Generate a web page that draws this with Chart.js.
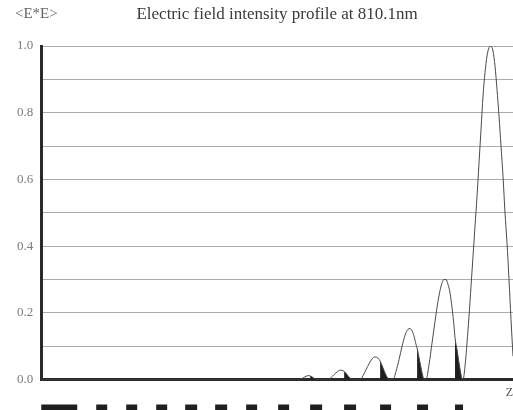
<!DOCTYPE html>
<html>
<head>
<meta charset="utf-8">
<title>Electric field intensity profile at 810.1nm</title>
<script src="https://cdn.jsdelivr.net/npm/chart.js@4/dist/chart.umd.min.js"></script>
<style>
  html, body { margin: 0; padding: 0; background: #ffffff; }
  #wrap { width: 513px; height: 410px; }
</style>
</head>
<body>
<div id="wrap"><canvas id="c" width="513" height="410"></canvas></div>
<script>
// Position along the structure (nm) and normalised field intensity <E*E>
const positionNm = [
  0, 1036,
  1044, 1052, 1060, 1068, 1076, 1084, 1092, 1100, 1104,
  1148, 1160, 1172, 1184, 1196, 1204, 1212, 1220, 1228, 1236, 1242,
  1276, 1288, 1300, 1312, 1324, 1336, 1348, 1356, 1364, 1372, 1380, 1388, 1392,
  1408, 1420, 1432, 1444, 1456, 1468, 1476, 1484, 1492, 1500, 1504, 1512, 1520, 1528, 1532,
  1540, 1552, 1564, 1576, 1588, 1600, 1612, 1620, 1628, 1636, 1644, 1652, 1656, 1664, 1672, 1680, 1684,
  1688, 1696, 1704, 1712, 1720, 1728, 1736, 1744, 1752, 1760, 1768, 1776, 1784, 1792,
  1800, 1808, 1816, 1824, 1832, 1840, 1848, 1856, 1864, 1872, 1880, 1888
];
const intensity = [
  0, 0,
  0.003, 0.007, 0.010, 0.012, 0.011, 0.008, 0.004, 0.001, 0,
  0, 0.006, 0.015, 0.023, 0.028, 0.028, 0.024, 0.019, 0.011, 0.004, 0,
  0, 0.012, 0.030, 0.048, 0.062, 0.068, 0.064, 0.056, 0.042, 0.027, 0.013, 0.003, 0,
  0, 0.025, 0.060, 0.100, 0.133, 0.151, 0.153, 0.146, 0.130, 0.105, 0.095, 0.066, 0.035, 0.008, 0,
  0, 0.045, 0.110, 0.175, 0.235, 0.280, 0.300, 0.300, 0.285, 0.260, 0.215, 0.160, 0.125, 0.090, 0.050, 0.015, 0,
  0, 0.040, 0.110, 0.190, 0.280, 0.370, 0.460, 0.550, 0.650, 0.750, 0.850, 0.920, 0.970, 0.995,
  1.000, 0.985, 0.940, 0.870, 0.790, 0.700, 0.610, 0.500, 0.410, 0.300, 0.180, 0.070
];

// High-index layers of the stack (start / end, nm)
const layerStart = [0, 220, 340, 460, 576, 696, 820, 948, 1076, 1212, 1356, 1504, 1656];
const layerEnd   = [144, 264, 384, 504, 624, 744, 864, 992, 1124, 1260, 1400, 1548, 1688];

const yTicks = [0, 0.2, 0.4, 0.6, 0.8, 1.0];

const Z_MAX = 1888;
const LAYER_ROW = -0.09;   // drawn under the axis, below the plot
const SERIF = '"Liberation Serif", "Times New Roman", serif';
const TITLE_PAD_TOP = 4;
const TITLE_SIZE = 17;

const curvePoints = positionNm.map((x, i) => ({ x, y: intensity[i] }));

const inLayer = (a, b) => layerStart.some((s, i) => a >= s && b <= layerEnd[i]);

const layerPoints = [];
layerStart.forEach((s, i) => {
  layerPoints.push({ x: s, y: LAYER_ROW });
  layerPoints.push({ x: layerEnd[i], y: LAYER_ROW });
  layerPoints.push({ x: layerEnd[i] + 1, y: null });
});

// Quantity label in the top-left corner, level with the title
const axisLabel = {
  id: 'axisLabel',
  afterDraw(chart) {
    const ctx = chart.ctx;
    const tb = chart.titleBlock;
    ctx.save();
    ctx.font = '15px ' + SERIF;
    ctx.fillStyle = '#666';
    ctx.textBaseline = 'middle';
    ctx.textAlign = 'left';
    ctx.fillText('<E*E>', chart.scales.y.left + 6, tb.top + TITLE_PAD_TOP + TITLE_SIZE * 0.6);
    ctx.restore();
  }
};

new Chart(document.getElementById('c'), {
  type: 'line',
  data: {
    datasets: [
      {
        label: 'E*E',
        data: curvePoints,
        borderColor: '#4a4a4a',
        borderWidth: 1,
        pointRadius: 0,
        cubicInterpolationMode: 'monotone',
        fill: 'origin',
        backgroundColor: 'rgba(0,0,0,0)',
        segment: {
          backgroundColor: ctx => inLayer(positionNm[ctx.p0DataIndex], positionNm[ctx.p1DataIndex]) ? '#1e1e1e' : undefined
        }
      },
      {
        label: 'layers',
        data: layerPoints,
        borderColor: '#1f1f1f',
        borderWidth: 10,
        borderCapStyle: 'butt',
        pointRadius: 0,
        tension: 0,
        spanGaps: false,
        fill: false,
        clip: false
      }
    ]
  },
  options: {
    responsive: false,
    animation: false,
    devicePixelRatio: 1,
    layout: { autoPadding: false, padding: { left: 9, right: 0, top: 0, bottom: 0 } },
    plugins: {
      legend: { display: false },
      tooltip: { enabled: false },
      title: {
        display: true,
        text: 'Electric field intensity profile at 810.1nm',
        fullSize: false,
        color: '#3a3a3a',
        font: { family: SERIF, size: TITLE_SIZE, weight: 'normal' },
        padding: { top: TITLE_PAD_TOP, bottom: 21.6 }
      }
    },
    scales: {
      x: {
        type: 'linear',
        min: 0,
        max: Z_MAX,
        grid: { display: false, drawTicks: false },
        border: { display: true, color: '#2a2a2a', width: 3 },
        ticks: { display: false },
        title: {
          display: true,
          text: 'Z',
          align: 'end',
          color: '#555',
          font: { family: SERIF, size: 12 },
          padding: { top: 6, bottom: 10 }
        }
      },
      y: {
        min: 0,
        max: 1,
        grid: { color: '#ababab', lineWidth: 1, drawTicks: false },
        border: { display: true, color: '#2a2a2a', width: 3 },
        ticks: {
          stepSize: 0.1,
          autoSkip: false,
          padding: 8,
          color: '#7a7a7a',
          font: { family: SERIF, size: 13 },
          callback: v => {
            const t = yTicks.find(k => Math.abs(k - v) < 1e-6);
            return t === undefined ? '' : t.toFixed(1);
          }
        }
      }
    }
  },
  plugins: [axisLabel]
});
</script>
</body>
</html>
